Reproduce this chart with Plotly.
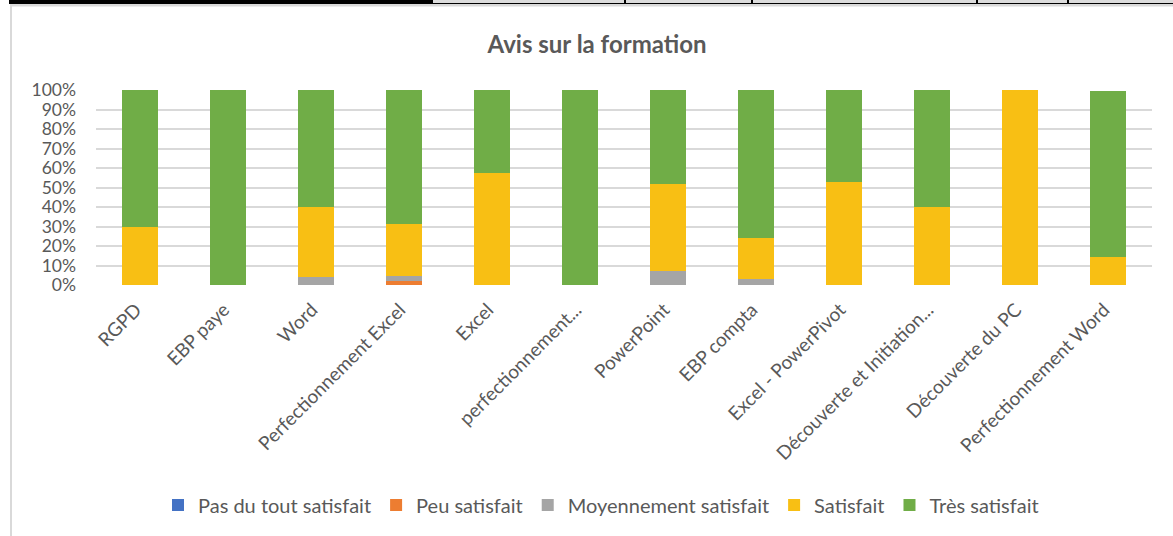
import plotly.graph_objects as go

categories = ["RGPD", "EBP paye", "Word", "Perfectionnement Excel", "Excel",
              "perfectionnement...", "PowerPoint", "EBP compta", "Excel - PowerPivot",
              "Découverte et Initiation...", "Découverte du PC", "Perfectionnement Word"]

pas_du_tout = [0, 0, 0, 0, 0, 0, 0, 0, 0, 0, 0, 0]
peu = [0, 0, 0, 0.022, 0, 0, 0, 0, 0, 0, 0, 0]
moyen = [0, 0, 0.04, 0.022, 0, 0, 0.07, 0.03, 0, 0, 0, 0]
satisfait = [0.30, 0, 0.36, 0.267, 0.575, 0, 0.45, 0.21, 0.53, 0.40, 1.0, 0.145]
tres = [0.70, 1.0, 0.60, 0.689, 0.425, 1.0, 0.48, 0.76, 0.47, 0.60, 0, 0.85]

series_names = ["Pas du tout satisfait", "Peu satisfait", "Moyennement satisfait",
                "Satisfait", "Très satisfait"]
series_values = [pas_du_tout, peu, moyen, satisfait, tres]
colors = ["#4472c4", "#ed7d31", "#a5a5a5", "#f8bf14", "#70ad47"]

W, H = 1173, 536
L, R, T, B = 96, 1152, 90, 285
FONT = "Lato, Open Sans, Arial, sans-serif"
TXT = "#595959"

fig = go.Figure()
for name, vals, col in zip(series_names, series_values, colors):
    fig.add_trace(go.Bar(x=categories, y=vals, name=name, marker=dict(color=col, line=dict(width=0)),
                         width=0.41))

def px(x):
    return (x - L) / (R - L)

def py(y):
    return (B - y) / (B - T)

shapes = []
def rect(x0, y0, x1, y1, color):
    shapes.append(dict(type="rect", xref="paper", yref="paper", x0=px(x0), x1=px(x1),
                       y0=py(y1), y1=py(y0), fillcolor=color, line=dict(width=0), layer="above"))

# frame / table decoration at the top
rect(9, 0, 1173, 4, "#000000")
rect(433, 0, 1173, 3, "#dcdcdc")
for vx in [431, 624, 751, 976, 1067]:
    rect(vx, 0, vx + 2, 4, "#000000")
rect(10, 4, 1173, 6.5, "#d9d9d9")
rect(10, 4, 12, 536, "#d9d9d9")

fig.update_layout(
    width=W, height=H,
    template="none",
    barmode="stack",
    bargap=0.59,
    plot_bgcolor="white", paper_bgcolor="white",
    margin=dict(l=L, r=W - R, t=T, b=H - B, autoexpand=False),
    font=dict(family=FONT, size=18, color=TXT),
    title=dict(text="<b>Avis sur la formation</b>", x=597 / W, xanchor="center",
               y=1 - 45 / H, yanchor="middle", yref="container",
               font=dict(family=FONT, size=24, color=TXT)),
    legend=dict(orientation="h", x=601 / W, xanchor="center", xref="container",
                y=1 - 505 / H, yanchor="middle", yref="container",
                font=dict(family=FONT, size=20, color=TXT), traceorder="normal",
                itemwidth=30),
    shapes=shapes,
)
fig.update_xaxes(tickangle=-45, showgrid=False, showline=False, ticks="", automargin=False,
                 ticklabelstandoff=9, ticklabelshift=-4,
                 tickfont=dict(family=FONT, size=19, color=TXT))
fig.update_yaxes(range=[0, 1], dtick=0.1, tickformat=".0%", showgrid=True, gridcolor="#d9d9d9",
                 gridwidth=2, zeroline=False, showline=False, ticks="", automargin=False,
                 ticklabelstandoff=19, tickfont=dict(family=FONT, size=17.5, color=TXT))

fig.write_html("out.html", config={"displayModeBar": False},
               post_script="document.body.style.margin='0px';")
